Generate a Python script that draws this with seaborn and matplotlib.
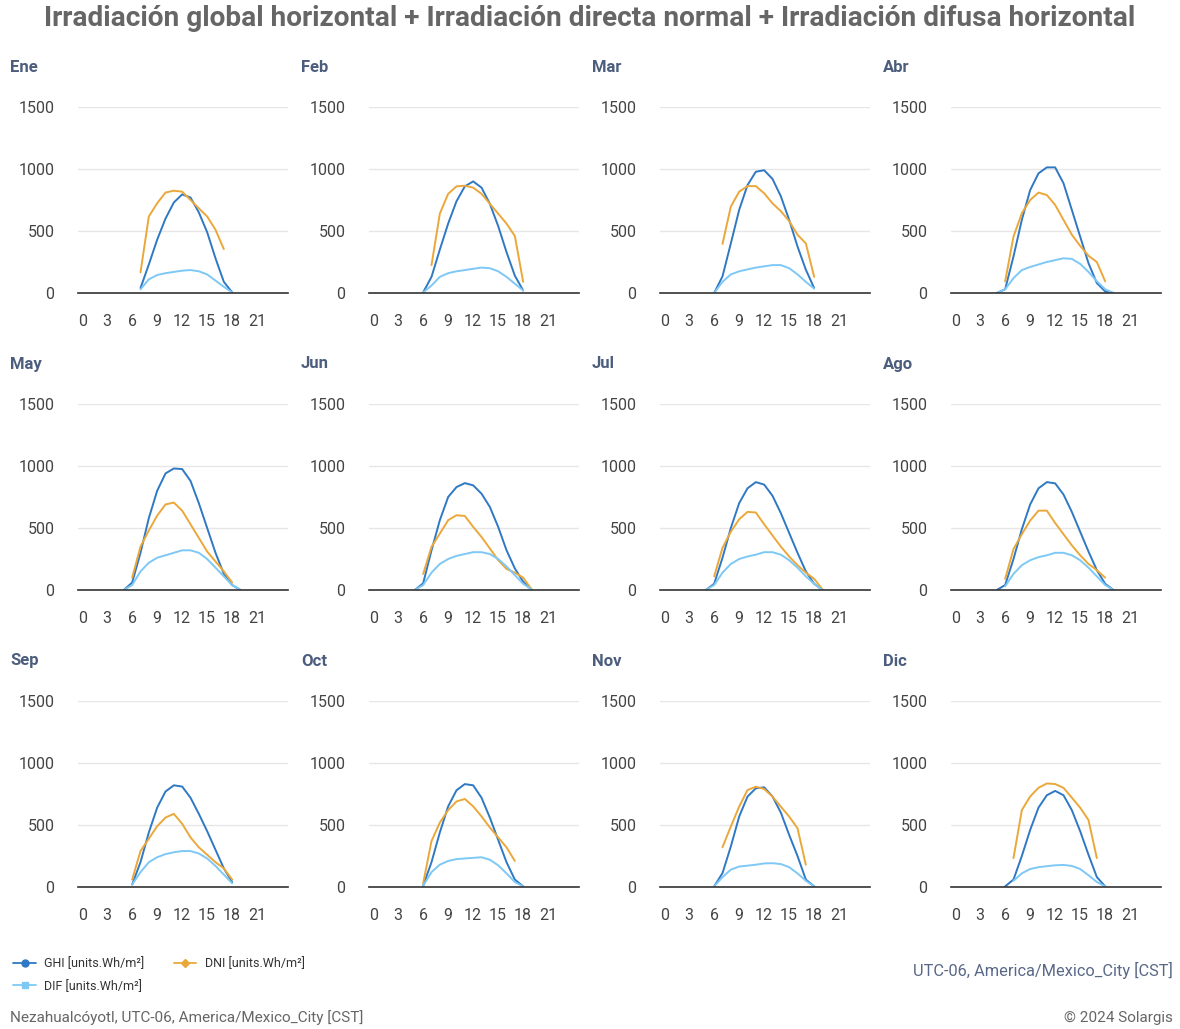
import numpy as np
import pandas as pd
import matplotlib
matplotlib.use("Agg")
import matplotlib.pyplot as plt
from matplotlib.lines import Line2D
import seaborn as sns

# -------------------------------------------------
# Data (hourly values, W/m2) -- (first hour, values)
# -------------------------------------------------
months = ["Ene", "Feb", "Mar", "Abr", "May", "Jun",
          "Jul", "Ago", "Sep", "Oct", "Nov", "Dic"]
x_ticks = [0, 3, 6, 9, 12, 15, 18, 21]
y_ticks = [0, 500, 1000, 1500]

ghi = {
    "Ene": (7, [40, 230, 430, 600, 730, 795, 770, 650, 490, 280, 90, 5]),
    "Feb": (6, [5, 130, 350, 560, 740, 860, 900, 850, 720, 540, 330, 140, 20]),
    "Mar": (6, [0, 134, 400, 670, 870, 978, 990, 920, 780, 590, 375, 188, 40]),
    "Abr": (5, [0, 30, 295, 590, 830, 965, 1013, 1013, 885, 670, 455, 240, 80, 13, 0]),
    "May": (5, [0, 60, 300, 580, 800, 940, 980, 975, 880, 700, 500, 300, 130, 40, 0]),
    "Jun": (5, [0, 54, 320, 563, 750, 830, 862, 844, 777, 670, 509, 321, 174, 67, 5]),
    "Jul": (5, [0, 50, 260, 500, 700, 820, 870, 850, 760, 620, 460, 300, 150, 50, 0]),
    "Ago": (5, [0, 40, 250, 490, 690, 820, 870, 860, 770, 630, 470, 310, 160, 50, 0]),
    "Sep": (6, [20, 200, 440, 640, 770, 820, 810, 720, 590, 450, 300, 150, 40]),
    "Oct": (6, [10, 200, 440, 650, 780, 830, 820, 720, 560, 380, 200, 60, 5]),
    "Nov": (6, [5, 112, 327, 568, 729, 796, 804, 730, 600, 420, 250, 60, 5]),
    "Dic": (6, [5, 60, 250, 460, 640, 740, 775, 740, 620, 450, 260, 80, 5]),
}
dni = {
    "Ene": (7, [166, 617, 724, 810, 825, 817, 750, 683, 617, 510, 354]),
    "Feb": (7, [225, 640, 800, 860, 865, 850, 800, 720, 640, 560, 460, 90]),
    "Mar": (7, [396, 697, 817, 862, 862, 804, 723, 660, 580, 470, 400, 130]),
    "Abr": (6, [94, 455, 643, 750, 810, 790, 710, 590, 470, 380, 300, 250, 94]),
    "May": (6, [100, 350, 480, 600, 690, 705, 640, 530, 420, 310, 230, 150, 60]),
    "Jun": (6, [129, 348, 455, 563, 603, 597, 509, 428, 335, 241, 170, 140, 100, 5]),
    "Jul": (6, [110, 340, 470, 570, 630, 625, 530, 440, 350, 270, 200, 140, 90, 5]),
    "Ago": (6, [90, 330, 450, 560, 640, 640, 540, 450, 360, 280, 210, 160, 100]),
    "Sep": (6, [60, 290, 390, 490, 560, 590, 510, 400, 320, 260, 200, 150, 60]),
    "Oct": (6, [30, 370, 520, 620, 690, 710, 650, 570, 480, 400, 320, 210]),
    "Nov": (7, [321, 488, 648, 782, 809, 790, 729, 648, 568, 474, 180]),
    "Dic": (7, [233, 620, 730, 800, 835, 830, 800, 720, 640, 540, 233]),
}
dif = {
    "Ene": (7, [30, 110, 145, 160, 170, 180, 185, 175, 150, 100, 50, 5]),
    "Feb": (6, [5, 60, 130, 160, 175, 185, 195, 205, 200, 175, 130, 75, 20]),
    "Mar": (6, [0, 90, 150, 175, 190, 205, 215, 225, 225, 200, 150, 90, 35]),
    "Abr": (5, [0, 30, 120, 185, 210, 230, 250, 265, 280, 275, 235, 170, 95, 30, 0]),
    "May": (5, [0, 40, 150, 220, 260, 280, 300, 320, 320, 300, 250, 180, 110, 40, 0]),
    "Jun": (5, [0, 40, 140, 210, 250, 275, 290, 305, 305, 290, 250, 190, 120, 50, 5]),
    "Jul": (5, [0, 40, 140, 210, 250, 270, 285, 305, 305, 285, 240, 180, 110, 50, 0]),
    "Ago": (6, [30, 130, 200, 240, 265, 280, 300, 300, 280, 240, 180, 110, 40, 0]),
    "Sep": (6, [20, 120, 200, 240, 265, 280, 290, 290, 270, 230, 170, 100, 30]),
    "Oct": (6, [10, 120, 180, 210, 225, 230, 235, 240, 220, 175, 110, 40, 5]),
    "Nov": (6, [5, 80, 140, 165, 172, 180, 190, 192, 185, 160, 110, 50, 5]),
    "Dic": (7, [50, 110, 145, 160, 168, 175, 178, 170, 145, 95, 40, 5]),
}

series = {"GHI": ghi, "DNI": dni, "DIF": dif}
colors = {"GHI": "#2f78c4", "DNI": "#eba83a", "DIF": "#7ec8f5"}

rows = []
for name, table in series.items():
    for m in months:
        start, vals = table[m]
        for i, v in enumerate(vals):
            rows.append({"month": m, "hour": start + i, "series": name, "value": v})
df = pd.DataFrame(rows)

# -------------------------------------------------
# Figure
# -------------------------------------------------
sns.set_theme(style="white")
plt.rcParams["font.family"] = ["Roboto", "DejaVu Sans"]

W, H = 1180, 1029
fig = plt.figure(figsize=(W / 100, H / 100), dpi=100)

fig.text(0.5, 1 - 18 / H,
         "Irradiación global horizontal + Irradiación directa normal + Irradiación difusa horizontal",
         ha="center", va="center", fontsize=20.2, fontweight="bold", color="#666666")

for k, m in enumerate(months):
    col, row = k % 4, k // 4
    x0 = 78 + 291 * col
    y0 = 293 + 297 * row
    ax = fig.add_axes([x0 / W, 1 - y0 / H, 210 / W, 186 / H])
    sub = df[df["month"] == m]
    sns.lineplot(data=sub, x="hour", y="value", hue="series",
                 hue_order=["GHI", "DNI", "DIF"], palette=colors,
                 linewidth=1.4, legend=False, ax=ax)
    ax.set_xlim(-0.5, 24.7)
    ax.set_ylim(0, 1500)
    ax.set_xticks(x_ticks)
    ax.set_yticks(y_ticks)
    ax.set_xlabel("")
    ax.set_ylabel("")
    for s in ["top", "right", "left"]:
        ax.spines[s].set_visible(False)
    ax.spines["bottom"].set_color("#333333")
    ax.spines["bottom"].set_linewidth(1.2)
    ax.grid(axis="y", color="#e6e6e6", linewidth=1)
    ax.set_axisbelow(True)
    ax.tick_params(axis="both", length=0, labelsize=11.5, colors="#444444")
    ax.tick_params(axis="x", pad=15)
    ax.tick_params(axis="y", pad=17)
    fig.text((x0 - 68) / W, 1 - (y0 - 226) / H, m, ha="left", va="center",
             fontsize=12, fontweight="bold", color="#4c5d7d")

# legend
handles = [
    Line2D([], [], color=colors["GHI"], marker="o", markersize=5, lw=1.3),
    Line2D([], [], color=colors["DIF"], marker="s", markersize=5, lw=1.3),
    Line2D([], [], color=colors["DNI"], marker="D", markersize=4, lw=1.3),
]
labels = ["GHI [units.Wh/m²]", "DIF [units.Wh/m²]", "DNI [units.Wh/m²]"]
fig.legend(handles, labels, loc="upper left", bbox_to_anchor=(2 / W, 1 - 946 / H),
           ncol=2, frameon=False, fontsize=9, labelcolor="#333333",
           handlelength=1.8, handletextpad=0.7, columnspacing=2.3, labelspacing=0.75)

fig.text(1173 / W, 1 - 970 / H, "UTC-06, America/Mexico_City [CST]",
         ha="right", va="center", fontsize=11.8, color="#5a6888")
fig.text(10 / W, 1 - 1018 / H, "Nezahualcóyotl, UTC-06, America/Mexico_City [CST]",
         ha="left", va="center", fontsize=11, color="#666666")
fig.text(1173 / W, 1 - 1018 / H, "© 2024 Solargis",
         ha="right", va="center", fontsize=11, color="#666666")

fig.savefig("out.png", dpi=100)
